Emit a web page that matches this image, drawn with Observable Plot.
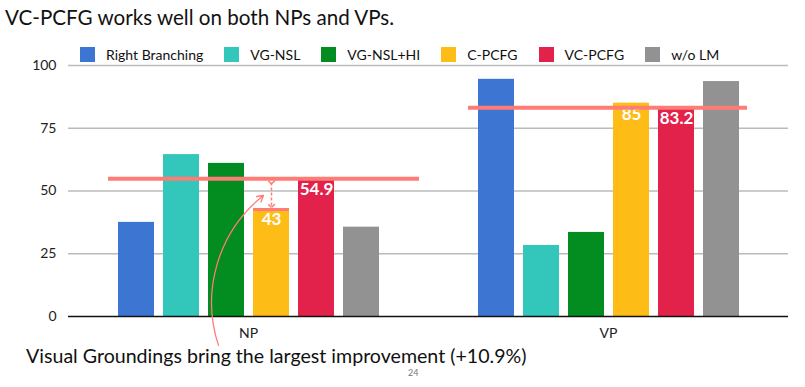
<!DOCTYPE html>
<html><head><meta charset="utf-8">
<script src="https://cdn.jsdelivr.net/npm/d3@7"></script>
<script src="https://cdn.jsdelivr.net/npm/@observablehq/plot@0.6"></script>
<style>
body{margin:0;background:#fff;font-family:Lato,sans-serif;}
#wrap{position:relative;width:805px;height:387px;overflow:hidden;background:#fff;}
#title{position:absolute;left:5px;top:5px;font-size:20.6px;color:#111;white-space:nowrap;}
#legend{position:absolute;left:80px;top:46px;display:flex;align-items:center;font-size:14px;color:#111;white-space:nowrap;}
.item{display:flex;align-items:center;margin-right:21px;}
.sw{width:15px;height:15px;margin-right:11px;}
#chart{position:absolute;left:0;top:60px;}
#caption{position:absolute;left:26px;top:344px;font-size:19.6px;color:#111;white-space:nowrap;}
#page{position:absolute;left:408px;top:367px;font-size:9px;color:#777;}
</style></head>
<body><div id="wrap">
<div id="title"></div>
<div id="legend"></div>
<div id="chart"></div>
<div id="caption"></div>
<div id="page"></div>
</div>
<script>
const titleText = "VC-PCFG works well on both NPs and VPs.";
const captionText = "Visual Groundings bring the largest improvement (+10.9%)";
const pageNumber = "24";
const groups = ["NP", "VP"];
const methods = ["Right Branching", "VG-NSL", "VG-NSL+HI", "C-PCFG", "VC-PCFG", "w/o LM"];
const colors = ["#3D75D3", "#33C6BA", "#038C20", "#FDBD16", "#E2224A", "#929292"];
const npValues = [37.5, 64.5, 61.0, 43.0, 54.9, 35.6];
const vpValues = [94.5, 28.3, 33.5, 85.0, 83.2, 93.6];
const yTicks = [0, 25, 50, 75, 100];
const labelledMethods = ["C-PCFG", "VC-PCFG"];
const refValues = [54.9, 83.2];          // VC-PCFG level per group
const gapGroup = "NP", gapMethod = "C-PCFG", gapLow = 43.0, gapHigh = 54.9;
const arrowFrom = "VG-NSL+HI", arrowTo = "C-PCFG", arrowY1 = -11.5, arrowY2 = 48.2;

document.getElementById("title").textContent = titleText;
document.getElementById("caption").textContent = captionText;
document.getElementById("page").textContent = pageNumber;
const legend = document.getElementById("legend");
methods.forEach((m, i) => {
  const it = document.createElement("div"); it.className = "item";
  const sw = document.createElement("div"); sw.className = "sw"; sw.style.background = colors[i];
  const t = document.createElement("span"); t.textContent = m;
  it.append(sw, t); legend.append(it);
});

const valuesByGroup = [npValues, vpValues];
const table = groups.flatMap((g, gi) => methods.map((m, mi) => ({group: g, method: m, value: valuesByGroup[gi][mi]})));
const labels = table.filter(d => labelledMethods.includes(d.method));
const refs = groups.map((g, i) => ({group: g, value: refValues[i]}));
const salmon = "#FF7B76";

const chart = Plot.plot({
  width: 805, height: 300,
  marginLeft: 68, marginRight: 17, marginTop: 5, marginBottom: 44,
  style: {fontFamily: "Lato, sans-serif", fontSize: "14px", color: "#222", background: "transparent", overflow: "visible"},
  fx: {domain: groups, padding: 0, axis: "bottom", tickSize: 0, tickPadding: 12, label: null},
  x: {domain: methods, paddingInner: 0.2, paddingOuter: 1.1, axis: null},
  y: {domain: [0, 100], ticks: yTicks, label: null, tickSize: 0, tickPadding: 12},
  color: {domain: methods, range: colors},
  marks: [
    Plot.ruleY(yTicks.slice(1), {stroke: "#bbb", strokeWidth: 1.3}),
    Plot.barY(table, {fx: "group", x: "method", y: "value", fill: "method"}),
    Plot.ruleY([0], {stroke: "#111", strokeWidth: 1.5}),
    Plot.tickY(table.filter(d => d.group === gapGroup && d.method === gapMethod), {fx: "group", x: "method", y: "value", stroke: salmon, strokeWidth: 3, dy: 1}),
    Plot.text(labels, {fx: "group", x: "method", y: "value", text: d => String(d.value), dy: 11, fill: "white", fontWeight: "bold", fontSize: 17}),
    Plot.ruleY(refs.filter(d => d.group === "NP"), {fx: "group", y: "value", stroke: salmon, strokeWidth: 4, insetLeft: 40, insetRight: 9}),
    Plot.ruleY(refs.filter(d => d.group === "VP"), {fx: "group", y: "value", stroke: salmon, strokeWidth: 4, insetLeft: 40, insetRight: 41}),
    Plot.link([{group: gapGroup, m: gapMethod, y1: gapHigh - 1.5, y2: gapLow + 1}], {fx: "group", x1: "m", x2: "m", y1: "y1", y2: "y2", stroke: salmon, strokeWidth: 1.5, strokeDasharray: "3,2", markerStart: "arrow", markerEnd: "arrow"}),
    Plot.arrow([{group: gapGroup, a: arrowFrom, b: arrowTo, y1: arrowY1, y2: arrowY2}], {fx: "group", x1: "a", x2: "b", y1: "y1", y2: "y2", bend: 35, stroke: salmon, strokeWidth: 1.3, headLength: 8, dx: -8})
  ]
});
document.getElementById("chart").append(chart);
</script>
</body></html>
